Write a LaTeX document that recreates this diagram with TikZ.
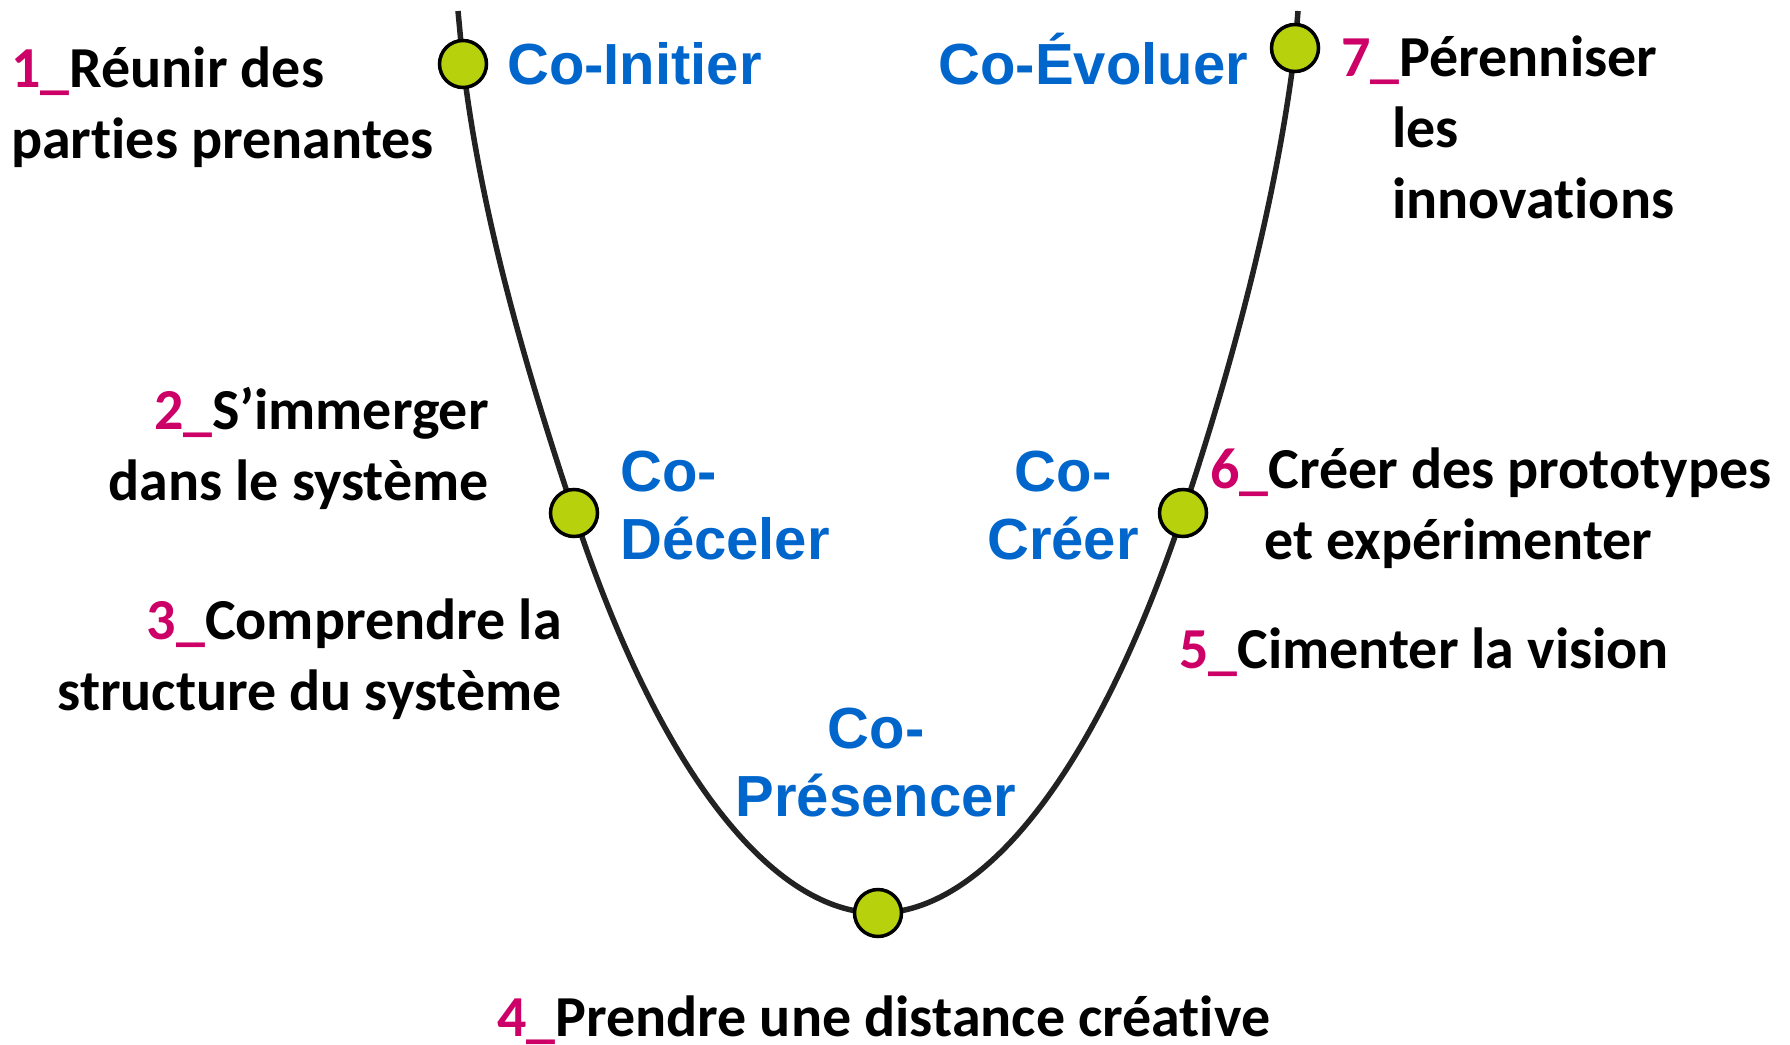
\documentclass[tikz,border=0pt]{standalone}
\usepackage{fontspec}
\setmainfont{Carlito}[Ligatures=NoCommon]
\newfontfamily\arialfont{Liberation Sans}
\definecolor{stepmag}{RGB}{204,0,102}
\definecolor{coblue}{RGB}{0,102,204}
\definecolor{dotgreen}{RGB}{183,210,12}
\definecolor{curvegray}{RGB}{34,34,34}
\newcommand{\num}[1]{\textcolor{stepmag}{#1\_}}
\begin{document}
\begin{tikzpicture}[x=1pt,y=-1pt,
  dot/.style={circle, fill=dotgreen, draw=black, line width=3.5pt, minimum size=47pt, inner sep=0pt},
  steptext/.style={font=\fontsize{58}{71}\selectfont\bfseries, inner sep=0pt, text=black},
  colabel/.style={font=\arialfont\fontsize{58}{68}\selectfont\bfseries, inner sep=0pt, text=coblue},
  ucurve/.style={draw=curvegray, line width=5.5pt}
]
\useasboundingbox (0,0) rectangle (1790,1044);

% points of the U curve
\coordinate (top1) at (458,11);
\coordinate (p1) at (463,64);
\coordinate (p2) at (574,513);
\coordinate (p4) at (878,913);
\coordinate (p6) at (1183,513);
\coordinate (p7) at (1295,48);
\coordinate (top7) at (1298,11);

\draw[ucurve] (top1) -- (p1)
  .. controls (481,214) and (524,363) .. (p2)
  .. controls (662,780) and (776,913) .. (p4)
  .. controls (980,913) and (1094,780) .. (p6)
  .. controls (1233,363) and (1277,198) .. (p7)
  -- (top7);

\node[dot] (d1) at (p1) {};
\node[dot] (d2) at (p2) {};
\node[dot] (d4) at (p4) {};
\node[dot] (d6) at (p6) {};
\node[dot] (d7) at (p7) {};

% step texts (anchored at the baseline of their last line)
\node[steptext, anchor=base west, align=left] (t1) at (11,158) {\num{1}Réunir des\\parties prenantes};
\node[steptext, anchor=base east, align=right] (t2) at (489,500) {\num{2}S’immerger\\dans le système};
\node[steptext, anchor=base east, align=right] (t3) at (562,710) {\num{3}Comprendre la\\structure du système};
\node[steptext, anchor=base west] (t4) at (497,1036) {\num{4}Prendre une distance créative};
\node[steptext, anchor=base west] (t5) at (1179,668) {\num{5}Cimenter la vision};
\node[steptext, anchor=base west, align=left] (t6) at (1210,559) {\num{6}Créer des prototypes\\\hspace*{54pt}et expérimenter};
\node[steptext, anchor=base west, align=left] (t7) at (1341,218) {\num{7}Pérenniser\\\hspace*{51pt}les\\\hspace*{51pt}innovations};

% phase labels
\node[colabel, anchor=base west] (c1) at (507,84) {Co-Initier};
\node[colabel, anchor=base east] (c7) at (1248,84) {Co-Évoluer};
\node[colabel, anchor=base west, align=left] (c2) at (620,559) {Co-\\Déceler};
\node[colabel, anchor=base, align=center] (c6) at (1063,559) {Co-\\Créer};
\node[colabel, anchor=base, align=center] (c4) at (876,816) {Co-\\Présencer};
\end{tikzpicture}
\end{document}
